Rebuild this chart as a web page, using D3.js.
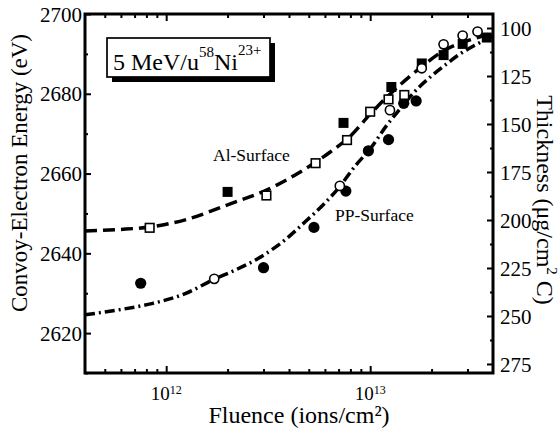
<!DOCTYPE html>
<html>
<head>
<meta charset="utf-8">
<title>Convoy electron energy vs fluence</title>
<style type="text/css">
	body { margin: 0; background: #fff; }
	svg text { font-family: "Liberation Serif", "Times New Roman", serif; fill: #000; }
	.axis path { display: none; }
	.axis line { stroke: #000; stroke-width: 2; }
</style>
</head>
<body>
<svg id="chart" width="560" height="432"></svg>

<script src="https://cdn.jsdelivr.net/npm/d3@7"></script>
<script type="text/javascript">

	// Al surface, filled squares
	var alFilledF = [2.0e12, 7.4e12, 1.27e13, 1.79e13, 2.29e13, 2.84e13, 3.73e13];
	var alFilledE = [2655.4, 2672.7, 2681.7, 2687.6, 2689.7, 2692.5, 2694.1];
	// Al surface, open squares
	var alOpenF = [8.3e11, 3.1e12, 5.4e12, 7.7e12, 1.0e13, 1.23e13, 1.47e13];
	var alOpenE = [2646.4, 2654.5, 2662.6, 2668.4, 2675.5, 2678.6, 2679.7];
	// PP surface, filled circles
	var ppFilledF = [7.5e11, 3.0e12, 5.3e12, 7.6e12, 9.8e12, 1.23e13, 1.46e13, 1.68e13];
	var ppFilledE = [2632.5, 2636.4, 2646.5, 2655.6, 2665.7, 2668.5, 2677.6, 2678.2];
	// PP surface, open circles
	var ppOpenF = [1.72e12, 7.1e12, 1.25e13, 1.79e13, 2.29e13, 2.84e13, 3.36e13];
	var ppOpenE = [2633.6, 2656.9, 2675.9, 2686.4, 2692.4, 2694.6, 2695.6];

	// fitted curves
	var alFitF = [4.0e11, 6.0e11, 8.3e11, 1.24e12, 2.06e12, 3.12e12, 4.54e12, 6.37e12, 8.0e12, 1.0e13, 1.25e13, 1.76e13, 2.33e13, 3.09e13, 4.0e13];
	var alFitE = [2645.6, 2646.0, 2646.6, 2648.4, 2652.4, 2655.9, 2660.4, 2665.4, 2669.4, 2674.9, 2679.9, 2686.5, 2691.0, 2693.5, 2695.2];
	var ppFitF = [4.0e11, 5.8e11, 8.5e11, 1.24e12, 1.72e12, 2.18e12, 2.82e12, 3.83e12, 4.8e12, 6.0e12, 7.13e12, 8.44e12, 1.0e13, 1.21e13, 1.4e13, 1.7e13, 1.97e13, 2.33e13, 2.76e13, 3.27e13, 4.0e13];
	var ppFitE = [2624.6, 2625.8, 2627.4, 2629.9, 2633.5, 2635.8, 2638.7, 2643.4, 2647.9, 2652.6, 2656.9, 2661.9, 2666.2, 2672.2, 2676.2, 2681.2, 2684.2, 2687.2, 2690.0, 2692.2, 2694.5];

	// ticks
	var energyTicks = [2620, 2640, 2660, 2680, 2700];
	var energyMinor = [2610, 2630, 2650, 2670, 2690];
	var thickTicks = [100, 125, 150, 175, 200, 225, 250, 275];
	var thickMinor = [112.5, 137.5, 162.5, 187.5, 212.5, 237.5, 262.5];
	var fluenceTicks = [1e12, 1e13];
	var fluenceExp = ["12", "13"];
	var fluenceMinor = [5e11, 6e11, 7e11, 8e11, 9e11, 2e12, 3e12, 4e12, 5e12, 6e12, 7e12, 8e12, 9e12, 2e13, 3e13];

	var margin = {top: 14, right: 67, bottom: 59, left: 85},
		width = 560 - margin.left - margin.right,
		height = 432 - margin.top - margin.bottom;

	var svg = d3.select("#chart");
	var vis = svg.append("g").attr("transform", "translate(" + margin.left + "," + margin.top + ")");

	var x = d3.scaleLog().domain([4e11, 4e13]).range([0, width]);
	var y = d3.scaleLinear().domain([2610, 2700]).range([height, 0]);
	var yR = d3.scaleLinear().domain([279.7, 92.7]).range([height, 0]);

	// axes, ticks pointing inward
	vis.append("g").attr("class", "axis")
		.call(d3.axisLeft(y).tickValues(energyTicks).tickSize(-6).tickPadding(3).tickFormat(d3.format("d")))
		.selectAll("text").attr("font-size", 21).attr("dy", "0.34em");
	vis.append("g").attr("class", "axis")
		.call(d3.axisLeft(y).tickValues(energyMinor).tickSize(-3).tickFormat(""));

	vis.append("g").attr("class", "axis").attr("transform", "translate(" + width + ",0)")
		.call(d3.axisRight(yR).tickValues(thickTicks).tickSize(-6).tickPadding(7).tickFormat(d3.format("d")))
		.selectAll("text").attr("font-size", 21).attr("dy", "0.34em");
	vis.append("g").attr("class", "axis").attr("transform", "translate(" + width + ",0)")
		.call(d3.axisRight(yR).tickValues(thickMinor).tickSize(-3).tickFormat(""));

	vis.append("g").attr("class", "axis").attr("transform", "translate(0," + height + ")")
		.call(d3.axisBottom(x).tickValues(fluenceTicks).tickSize(-7).tickFormat(""));
	vis.append("g").attr("class", "axis").attr("transform", "translate(0," + height + ")")
		.call(d3.axisBottom(x).tickValues(fluenceMinor).tickSize(-4).tickFormat(""));
	vis.append("g").attr("class", "axis")
		.call(d3.axisTop(x).tickValues(fluenceTicks).tickSize(-7).tickFormat(""));
	vis.append("g").attr("class", "axis")
		.call(d3.axisTop(x).tickValues(fluenceMinor).tickSize(-4).tickFormat(""));

	// x tick labels with exponents
	var xl = vis.append("g").selectAll("text")
		.data(fluenceTicks)
	  .enter().append("text")
		.attr("x", d => x(d))
		.attr("y", height + 27)
		.attr("text-anchor", "middle")
		.attr("font-size", 19);
	xl.append("tspan").text("10");
	xl.append("tspan").attr("font-size", 12).attr("dy", -6).text((d, i) => fluenceExp[i]);

	// fitted curves
	var line = d3.line()
		.x(d => x(d[0]))
		.y(d => y(d[1]))
		.curve(d3.curveMonotoneX);

	vis.append("path")
		.datum(d3.zip(alFitF, alFitE))
		.attr("d", line)
		.attr("fill", "none")
		.attr("stroke", "#000")
		.attr("stroke-width", 3.5)
		.attr("stroke-dasharray", "12,6");

	vis.append("path")
		.datum(d3.zip(ppFitF, ppFitE))
		.attr("d", line)
		.attr("fill", "none")
		.attr("stroke", "#000")
		.attr("stroke-width", 3.5)
		.attr("stroke-dasharray", "10,4,2,4");

	// markers
	vis.append("g").selectAll("rect")
		.data(d3.zip(alFilledF, alFilledE))
	  .enter().append("rect")
		.attr("x", d => x(d[0]) - 5)
		.attr("y", d => y(d[1]) - 5)
		.attr("width", 10).attr("height", 10)
		.attr("fill", "#000");

	vis.append("g").selectAll("circle")
		.data(d3.zip(ppFilledF, ppFilledE))
	  .enter().append("circle")
		.attr("cx", d => x(d[0]))
		.attr("cy", d => y(d[1]))
		.attr("r", 5.6)
		.attr("fill", "#000");

	vis.append("g").selectAll("rect")
		.data(d3.zip(alOpenF, alOpenE))
	  .enter().append("rect")
		.attr("x", d => x(d[0]) - 4.3)
		.attr("y", d => y(d[1]) - 4.3)
		.attr("width", 8.6).attr("height", 8.6)
		.attr("fill", "#fff")
		.attr("stroke", "#000")
		.attr("stroke-width", 1.6);

	vis.append("g").selectAll("circle")
		.data(d3.zip(ppOpenF, ppOpenE))
	  .enter().append("circle")
		.attr("cx", d => x(d[0]))
		.attr("cy", d => y(d[1]))
		.attr("r", 4.6)
		.attr("fill", "#fff")
		.attr("stroke", "#000")
		.attr("stroke-width", 1.6);

	// frame
	vis.append("rect")
		.attr("width", width).attr("height", height)
		.attr("fill", "none")
		.attr("stroke", "#000")
		.attr("stroke-width", 3);

	// curve labels
	svg.append("text").attr("x", 213).attr("y", 161).attr("font-size", 17.5).text("Al-Surface");
	svg.append("text").attr("x", 335).attr("y", 221).attr("font-size", 17.5).text("PP-Surface");

	// ion box with shadow
	svg.append("rect").attr("x", 112).attr("y", 43).attr("width", 163).attr("height", 39).attr("fill", "#000");
	svg.append("rect").attr("x", 107).attr("y", 38).attr("width", 163).attr("height", 39)
		.attr("fill", "#fff").attr("stroke", "#000").attr("stroke-width", 1.7);
	var ion = svg.append("text").attr("x", 113).attr("y", 70).attr("font-size", 24);
	ion.append("tspan").text("5 MeV/u");
	ion.append("tspan").attr("font-size", 15).attr("dy", -13).text("58");
	ion.append("tspan").attr("dy", 13).text("Ni");
	ion.append("tspan").attr("font-size", 15).attr("dy", -15).text("23+");

	// axis titles
	svg.append("text")
		.attr("transform", "translate(27,173) rotate(-90)")
		.attr("text-anchor", "middle")
		.attr("font-size", 23)
		.text("Convoy-Electron Energy (eV)");

	svg.append("text")
		.attr("x", 299).attr("y", 423)
		.attr("text-anchor", "middle")
		.attr("font-size", 24)
		.text("Fluence (ions/cm²)");

	var rt = svg.append("text")
		.attr("transform", "translate(537,200) rotate(90)")
		.attr("text-anchor", "middle")
		.attr("font-size", 24);
	rt.append("tspan").text("Thickness (μg/cm");
	rt.append("tspan").attr("font-size", 15).attr("dy", -10).text("2");
	rt.append("tspan").attr("dy", 10).text(" C)");

</script>
</body>
</html>
